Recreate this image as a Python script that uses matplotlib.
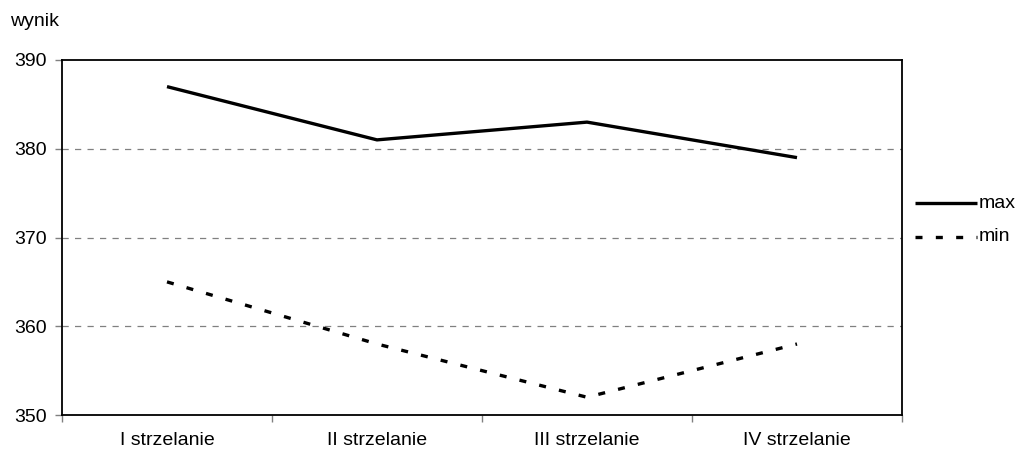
import matplotlib.pyplot as plt
from matplotlib.lines import Line2D

plt.rcParams['font.family'] = ['Liberation Sans', 'DejaVu Sans']

# wyniki strzelań
kategorie = ["I strzelanie", "II strzelanie", "III strzelanie", "IV strzelanie"]
wynik_max = [387, 381, 383, 379]
wynik_min = [365, 358, 352, 358]
yticks = [350, 360, 370, 380, 390]

W, H = 1025, 454
styl_max = dict(color='black', lw=2.4, solid_capstyle='butt')
styl_min = dict(color='black', lw=2.4, linestyle=(0, (2.1, 4.0)))

fig = plt.figure(figsize=(W / 100, H / 100), dpi=100)
ax = fig.add_axes([62 / W, 39 / H, 840 / W, 355 / H])

x = list(range(len(kategorie)))
ax.plot(x, wynik_max, **styl_max)
ax.plot(x, wynik_min, **styl_min)

ax.set_xlim(-0.5, len(kategorie) - 0.5)
ax.set_ylim(350, 390)
ax.set_yticks(yticks)
ax.set_yticklabels([str(v) for v in yticks], fontsize=14)
ax.set_xticks(x)
ax.set_xticklabels(kategorie, fontsize=14)
ax.set_xticks([i - 0.5 for i in range(len(kategorie) + 1)], minor=True)
ax.tick_params(axis='x', which='major', length=0, pad=12)
ax.tick_params(axis='x', which='minor', length=5, width=1, color='gray')
ax.tick_params(axis='y', length=5, width=1, color='gray', pad=6)

for v in yticks[1:-1]:
    ax.axhline(v, color='gray', lw=0.9, linestyle=(0, (5, 5)), zorder=0)

for s in ax.spines.values():
    s.set_linewidth(1.3)
    s.set_color('black')

fig.text(10 / W, 1 - 22 / H, "wynik", fontsize=14, va='center', ha='left')

# legenda po prawej stronie wykresu
for i, (etykieta, styl) in enumerate([("max", styl_max), ("min", styl_min)]):
    y = 1 - (203 + 34 * i) / H
    fig.add_artist(Line2D([915 / W, 977 / W], [y, y], transform=fig.transFigure, **styl))
    fig.text(979 / W, y, etykieta, fontsize=14, va='center', ha='left')

fig.savefig("out.png", dpi=100)
